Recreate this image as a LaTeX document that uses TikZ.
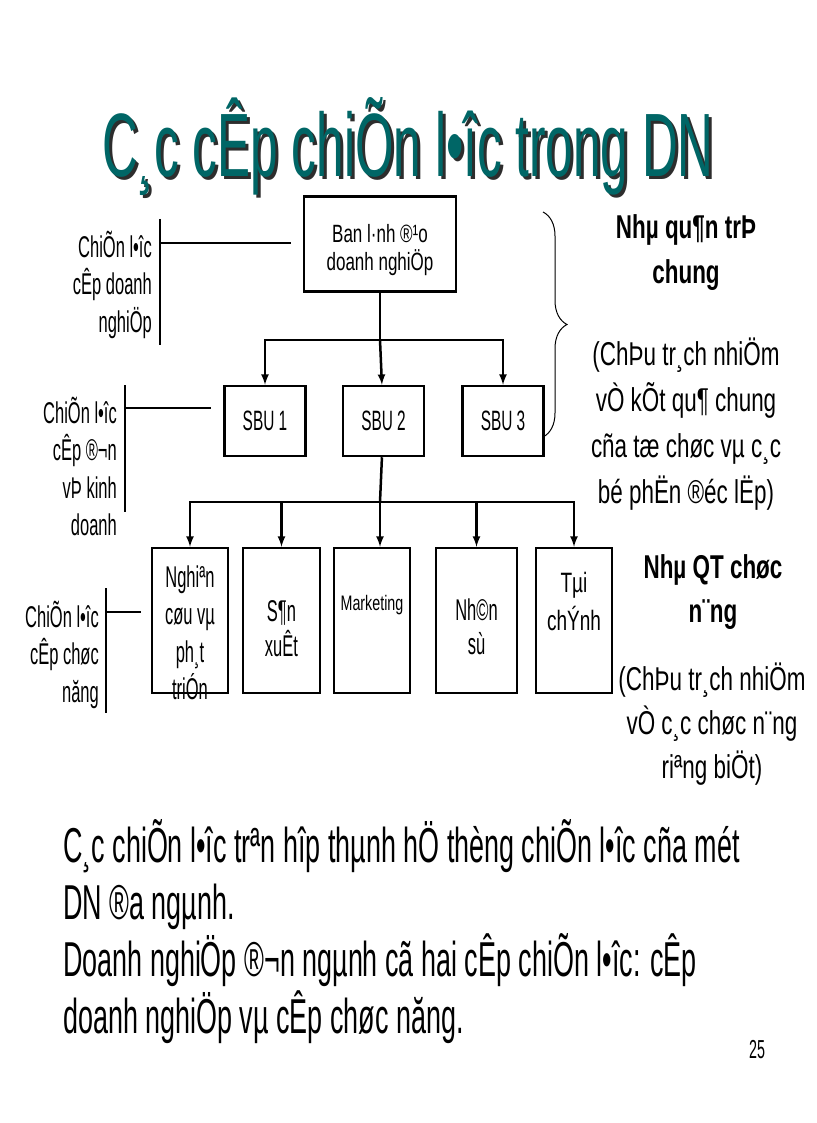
\documentclass[tikz,border=0pt]{standalone}
\usepackage{fontspec}
\setmainfont{Liberation Sans}
\newfontfamily\narrowfont{Liberation Sans}[FakeStretch=0.55]
\newfontfamily\widefont{Liberation Sans}[FakeStretch=0.68]
\usepackage{tikz}
\usetikzlibrary{positioning,arrows,decorations.pathreplacing}
\definecolor{titleteal}{RGB}{0,102,102}
\definecolor{titleshade}{RGB}{45,45,45}
\tikzstyle{mybox}=[draw,line width=2.5pt,inner sep=0pt]
\tikzstyle{conn}=[line width=2.5pt]
\tikzstyle{bar}=[line width=1.5pt]
\tikzstyle{txt}=[inner sep=0pt,anchor=base]
\newcommand{\narrowsz}[2]{\narrowfont\fontsize{#1}{#2}\selectfont}
\newcommand{\widesz}[2]{\widefont\fontsize{#1}{#2}\selectfont}

\begin{document}
\begin{tikzpicture}[x=1pt,y=-1pt,>=latex]
\useasboundingbox (0,0) rectangle (816,1123);
% title
\node(titleshadow)[txt,text=titleshade,font=\narrowsz{90}{90}] at (411,180) {C¸c cÊp chiÕn l•îc trong DN};
\node(title)[txt,text=titleteal,font=\narrowsz{90}{90}] at (408,177) {C¸c cÊp chiÕn l•îc trong DN};
% levels
\node(ban)[mybox,minimum width=152,minimum height=95] at (380,244) {};
\node(sbu1)[mybox,minimum width=81,minimum height=70,font=\narrowsz{28}{28}] at (265,421) {SBU 1};
\node(sbu2)[mybox,minimum width=81,minimum height=70,font=\narrowsz{28}{28},right=35pt of sbu1] {SBU 2};
\node(sbu3)[mybox,minimum width=81,minimum height=70,font=\narrowsz{28}{28},right=36pt of sbu2] {SBU 3};
\node(f1)[mybox,minimum width=76,minimum height=145] at (190,620.5) {};
\node(f2)[mybox,minimum width=77,minimum height=145] at (281.5,620.5) {};
\node(f3)[mybox,minimum width=76,minimum height=145] at (372,620.5) {};
\node(f4)[mybox,minimum width=81,minimum height=145] at (476.5,620.5) {};
\node(f5)[mybox,minimum width=76,minimum height=145] at (574,620.5) {};
% base of a text block = its last line
\node(bantxt)[txt,align=center,font=\widesz{25}{28}] at (380,270) {Ban l·nh ®¹o\\doanh nghiÖp};
\node(t1)[txt,align=center,font=\narrowsz{30}{37.5}] at (190,699.5) {Nghiªn\\cøu vµ\\ph¸t\\triÓn};
\node(t2)[txt,align=center,font=\narrowsz{30}{35}] at (281.5,656) {S¶n\\xuÊt};
\node(t3)[txt,font=\widesz{21}{24}] at (372,610) {Marketing};
\node(t4)[txt,align=center,font=\narrowsz{30}{34}] at (476.5,654) {Nh©n\\sù};
\node(t5)[txt,align=center,font=\widesz{28}{38}] at (574,630) {Tµi\\chÝnh};
% connectors
\coordinate(j1) at (380,340);
\coordinate(j2) at (380,502);
\draw[conn] (ban) -- (j1);
\draw[conn,->] (j1) -| (sbu1);
\draw[conn,->] (j1) -- (sbu2);
\draw[conn,->] (j1) -| (sbu3);
\draw[conn] (sbu2) -- (j2);
\draw[conn,->] (j2) -| (f1);
\draw[conn,->] (j2) -| (f2);
\draw[conn,->] (j2) -- (j2 |- f3.north);
\draw[conn,->] (j2) -| (f4);
\draw[conn,->] (j2) -| (f5);
% level labels
\node(lab1)[txt,anchor=base east,align=right,font=\narrowsz{30}{37.5}] at (152,332) {ChiÕn l•îc\\cÊp doanh\\nghiÖp};
\node(lab2)[txt,anchor=base east,align=right,font=\narrowsz{30}{37.5}] at (117,535.5) {ChiÕn l•îc\\cÊp ®¬n\\vÞ kinh\\doanh};
\node(lab3)[txt,anchor=base east,align=right,font=\narrowsz{30}{37.5}] at (99,702) {ChiÕn l•îc\\cÊp chøc\\năng};
\coordinate(bar1top) at (160,219);
\coordinate(bar1bot) at (160,345);
\coordinate(bar1mid) at (160,243);
\coordinate(bar2top) at (125,385);
\coordinate(bar2bot) at (125,512);
\coordinate(bar2mid) at (125,408);
\coordinate(bar3top) at (106,588);
\coordinate(bar3bot) at (106,713);
\coordinate(bar3mid) at (106,612);
\draw[bar] (bar1top) -- (bar1bot);
\draw[bar,shorten >=12pt] (bar1mid) -- (bar1mid -| ban.west);
\draw[bar] (bar2top) -- (bar2bot);
\draw[bar,shorten >=12pt] (bar2mid) -- (bar2mid -| sbu1.west);
\draw[bar] (bar3top) -- (bar3bot);
\draw[bar,shorten >=10pt] (bar3mid) -- (bar3mid -| f1.west);
% managers
\coordinate(brtop) at (543,212);
\coordinate(brbot) at (543,437);
\draw[line width=1pt,decorate,decoration={brace,amplitude=24pt}] (brtop) -- (brbot);
\node(gm)[txt,align=center,font=\widesz{33}{44}\bfseries] at (686,283) {Nhµ qu¶n trÞ\\chung};
\node(gmnote)[txt,align=center,font=\widesz{33}{46}] at (686,503) {(ChÞu tr¸ch nhiÖm\\vÒ kÕt qu¶ chung\\cña tæ chøc vµ c¸c\\bé phËn ®éc lËp)};
\node(fm)[txt,align=center,font=\widesz{33}{44}\bfseries] at (713,622) {Nhµ QT chøc\\n¨ng};
\node(fmnote)[txt,align=center,font=\widesz{33}{44}] at (712,778) {(ChÞu tr¸ch nhiÖm\\vÒ c¸c chøc n¨ng\\riªng biÖt)};
% text
\node(body)[txt,anchor=base west,align=left,font=\narrowsz{49}{57}] at (63,1033) {C¸c chiÕn l•îc trªn hîp thµnh hÖ thèng chiÕn l•îc cña mét\\DN ®a ngµnh.\\Doanh nghiÖp ®¬n ngµnh cã hai cÊp chiÕn l•îc: cÊp\\doanh nghiÖp vµ cÊp chøc năng.};
\node(page)[txt,font=\narrowsz{26}{26}] at (757,1058) {25};
\end{tikzpicture}
\end{document}
